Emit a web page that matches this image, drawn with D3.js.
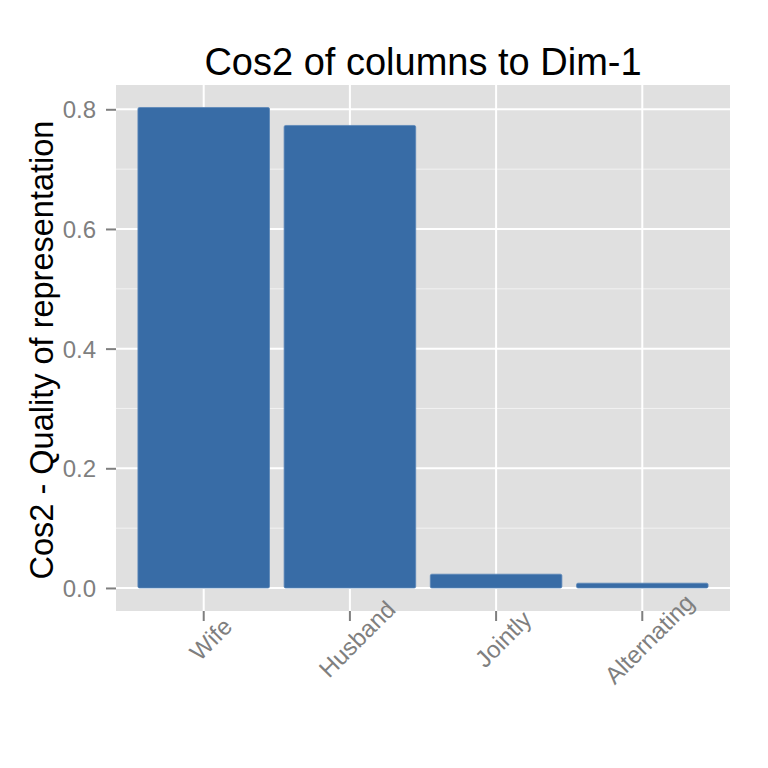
<!DOCTYPE html>
<html>
<head>
<meta charset="utf-8">
<script src="https://cdn.jsdelivr.net/npm/d3@7"></script>
<style>
  body { margin: 0; background: #fff; }
  text { font-family: "Liberation Sans", Arial, sans-serif; }
</style>
</head>
<body>
<script>
var width = 768,
    height = 768;

// plot panel edges in px
var panelLeft = 116, panelRight = 730, panelTop = 85, panelBottom = 611;

var categories = ["Wife", "Husband", "Jointly", "Alternating"];
var cos2 = [0.803, 0.773, 0.023, 0.008];
var majorTicks = [0, 0.2, 0.4, 0.6, 0.8];
var minorTicks = [0.1, 0.3, 0.5, 0.7];

var data = categories.map(function(c, i) { return {name: c, value: cos2[i]}; });

var x = d3.scaleBand()
    .domain(categories)
    .range([panelLeft, panelRight])
    .paddingInner(0.1)
    .paddingOuter(0.15);

var y = d3.scaleLinear()
    .domain([-0.0385, 0.8406])
    .range([panelBottom, panelTop]);

var svg = d3.select("body").append("svg")
    .attr("width", width)
    .attr("height", height);

svg.append("rect")
    .attr("x", panelLeft).attr("y", panelTop)
    .attr("width", panelRight - panelLeft).attr("height", panelBottom - panelTop)
    .attr("fill", "#e0e0e0");

// minor grid
svg.selectAll(".minor")
    .data(minorTicks)
    .enter().append("line")
    .attr("x1", panelLeft).attr("x2", panelRight)
    .attr("y1", function(d) { return y(d); })
    .attr("y2", function(d) { return y(d); })
    .attr("stroke", "#f2f2f2")
    .attr("stroke-width", 1);

// major grid
svg.selectAll(".major")
    .data(majorTicks)
    .enter().append("line")
    .attr("x1", panelLeft).attr("x2", panelRight)
    .attr("y1", function(d) { return y(d); })
    .attr("y2", function(d) { return y(d); })
    .attr("stroke", "#fff")
    .attr("stroke-width", 2);

svg.selectAll(".vgrid")
    .data(categories)
    .enter().append("line")
    .attr("x1", function(d) { return x(d) + x.bandwidth() / 2; })
    .attr("x2", function(d) { return x(d) + x.bandwidth() / 2; })
    .attr("y1", panelTop).attr("y2", panelBottom)
    .attr("stroke", "#fff")
    .attr("stroke-width", 2);

// bars
svg.selectAll(".bar")
    .data(data)
    .enter().append("rect")
    .attr("class", "bar")
    .attr("x", function(d) { return x(d.name); })
    .attr("width", x.bandwidth())
    .attr("y", function(d) { return y(d.value); })
    .attr("height", function(d) { return y(0) - y(d.value); })
    .attr("fill", "#386ca6")
    .attr("stroke", "#5b86b8")
    .attr("stroke-width", 0.8)
    .attr("rx", 1.5);

// y axis
var yAxis = svg.append("g")
    .attr("transform", "translate(" + panelLeft + ",0)")
    .call(d3.axisLeft(y).tickValues(majorTicks).tickFormat(d3.format(".1f")).tickSize(10).tickPadding(10));
yAxis.select(".domain").remove();
yAxis.selectAll(".tick line").attr("stroke", "#7f7f7f").attr("stroke-width", 2);
yAxis.selectAll(".tick text")
    .attr("fill", "#7f7f7f")
    .style("font-size", "24px")
    .attr("dy", "0.36em");

// x axis
var xAxis = svg.append("g")
    .attr("transform", "translate(0," + panelBottom + ")")
    .call(d3.axisBottom(x).tickSize(10).tickPadding(4));
xAxis.select(".domain").remove();
xAxis.selectAll(".tick line").attr("stroke", "#7f7f7f").attr("stroke-width", 2);
xAxis.selectAll(".tick text")
    .attr("fill", "#7f7f7f")
    .style("font-size", "24px")
    .attr("text-anchor", "middle")
    .attr("x", 0).attr("y", 0).attr("dy", "0.35em")
    .attr("transform", "translate(7,28) rotate(-45)");

// title
svg.append("text")
    .attr("x", (panelLeft + panelRight) / 2)
    .attr("y", 75)
    .attr("text-anchor", "middle")
    .style("font-size", "38px")
    .attr("fill", "#000")
    .text("Cos2 of columns to Dim-1");

// y axis title
svg.append("text")
    .attr("transform", "translate(53,350) rotate(-90)")
    .attr("text-anchor", "middle")
    .style("font-size", "32.5px")
    .attr("fill", "#000")
    .text("Cos2 - Quality of representation");
</script>
</body>
</html>
